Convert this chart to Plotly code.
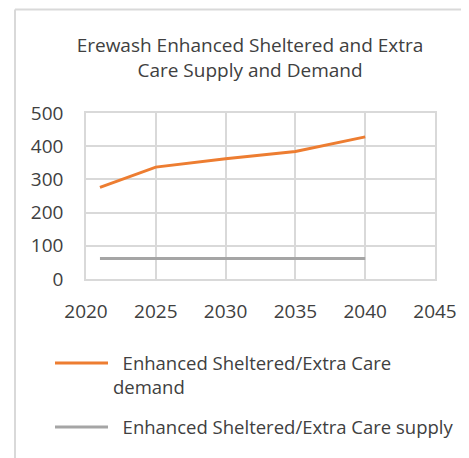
import plotly.graph_objects as go

years = [2021, 2025, 2030, 2035, 2040]
demand = [276, 337, 362, 384, 428]
supply = [62, 62, 62, 62, 62]
demand_name = "\u00a0\u00a0Enhanced Sheltered/Extra Care<br>demand"
supply_name = "\u00a0\u00a0Enhanced Sheltered/Extra Care supply"
title_text = "Erewash Enhanced Sheltered and Extra<br>Care Supply and Demand"

OFF = 8  # page body margin
W, H = 469 - OFF, 458 - OFF
L, R, T, B = 86 - OFF, 435 - OFF, 113 - OFF, 283 - OFF

FONT = "Open Sans"
FS = 19
TXT = "#404040"
GRID = "#D9D9D9"

fig = go.Figure()
fig.add_trace(go.Scatter(x=years, y=demand, mode="lines", name=demand_name,
                         legendgroup="d",
                         line=dict(color="#ED7D31", width=3)))
fig.add_trace(go.Scatter(x=years, y=supply, mode="lines", name=supply_name,
                         legendgroup="s",
                         line=dict(color="#A5A5A5", width=3)))

def px2x(p):
    return (p - OFF - L) / (R - L)

def py2y(p):
    return (B - (p - OFF)) / (B - T)

# outer chart border (only left and top visible in the crop)
fig.add_shape(type="line", xref="paper", yref="paper",
              x0=px2x(15), x1=px2x(480), y0=py2y(7), y1=py2y(7),
              line=dict(color="#D9D9D9", width=2))
fig.add_shape(type="line", xref="paper", yref="paper",
              x0=px2x(15), x1=px2x(15), y0=py2y(7), y1=py2y(470),
              line=dict(color="#D9D9D9", width=2))

fig.update_layout(
    width=W, height=H,
    margin=dict(l=L, r=W - R, t=T, b=H - B),
    paper_bgcolor="white", plot_bgcolor="white",
    font=dict(family=FONT, size=FS, color=TXT),
    title=dict(text=title_text, x=px2x(250), xref="paper", xanchor="center",
               y=1 - (52 - OFF) / H, yanchor="middle",
               font=dict(family=FONT, size=FS, color=TXT)),
    showlegend=True,
    legend=dict(x=px2x(50), y=py2y(350), xanchor="left", yanchor="top",
                xref="paper", yref="paper",
                itemwidth=53, valign="top", tracegroupgap=13,
                font=dict(family=FONT, size=18.5, color=TXT),
                bgcolor="rgba(0,0,0,0)"),
)
fig.update_xaxes(range=[2020, 2045], tickvals=[2020, 2025, 2030, 2035, 2040, 2045],
                 showgrid=True, gridcolor=GRID, gridwidth=1.5,
                 showline=True, linecolor=GRID, linewidth=1.5, mirror=True,
                 ticks="outside", ticklen=14, tickcolor="rgba(0,0,0,0)",
                 zeroline=False, tickfont=dict(size=FS, color=TXT))
fig.update_yaxes(range=[0, 500], tickvals=[0, 100, 200, 300, 400, 500],
                 showgrid=True, gridcolor=GRID, gridwidth=1.5,
                 showline=True, linecolor=GRID, linewidth=1.5, mirror=True,
                 ticks="outside", ticklen=17, tickcolor="rgba(0,0,0,0)",
                 zeroline=False, tickfont=dict(size=FS, color=TXT))

fig.write_html("out.html")
